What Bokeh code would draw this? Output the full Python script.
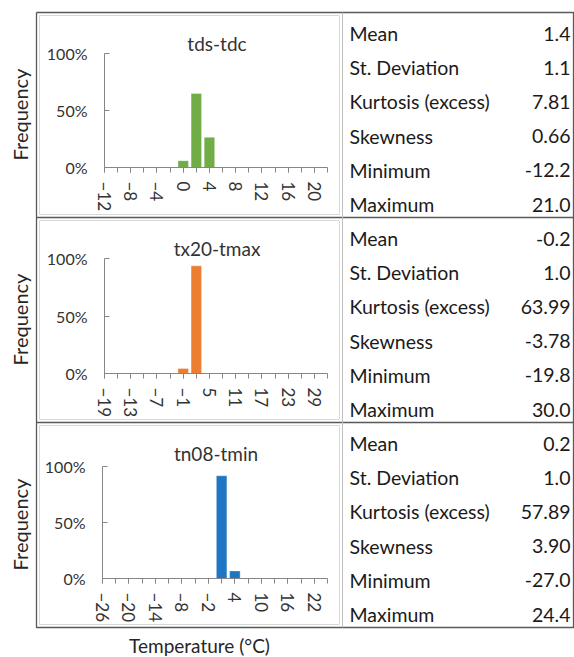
import math
from bokeh.plotting import figure
from bokeh.models import Range1d, LinearAxis, FixedTicker, PrintfTickFormatter
from bokeh.core.properties import value
from bokeh.embed import file_html
from bokeh.resources import INLINE

W, H = 574, 657
FONT = "Lato"

# ---------------- data ----------------
titles = ["tds-tdc", "tx20-tmax", "tn08-tmin"]
stat_names = ["Mean", "St. Deviation", "Kurtosis (excess)", "Skewness", "Minimum", "Maximum"]
tds_stats = ["1.4", "1.1", "7.81", "0.66", "-12.2", "21.0"]
tx20_stats = ["-0.2", "1.0", "63.99", "-3.78", "-19.8", "30.0"]
tn08_stats = ["0.2", "1.0", "57.89", "3.90", "-27.0", "24.4"]

# histogram bins (bin centres, degC) and frequencies (%)
tds_bins = [-12, -10, -8, -6, -4, -2, 0, 2, 4, 6, 8, 10, 12, 14, 16, 18, 20, 22]
tds_freq = [0, 0, 0, 0, 0, 0, 6, 65, 26.5, 0, 0, 0, 0, 0, 0, 0, 0, 0]
tx20_bins = [-19, -16, -13, -10, -7, -4, -1, 2, 5, 8, 11, 14, 17, 20, 23, 26, 29, 32]
tx20_freq = [0, 0, 0, 0, 0, 0.5, 4.4, 93.6, 0, 0, 0, 0, 0, 0, 0, 0, 0, 0]
tn08_bins = [-26, -23, -20, -17, -14, -11, -8, -5, -2, 1, 4, 7, 10, 13, 16, 19, 22, 25]
tn08_freq = [0, 0, 0, 0, 0, 0, 0, 0, 0, 91.7, 6.8, 0.5, 0, 0, 0, 0, 0, 0]

# tick labels on the temperature axes
tds_ticks = [-12, -8, -4, 0, 4, 8, 12, 16, 20]
tx20_ticks = [-19, -13, -7, -1, 5, 11, 17, 23, 29]
tn08_ticks = [-26, -20, -14, -8, -2, 4, 10, 16, 22]
freq_ticks = [0, 50, 100]

colors = ["#70AD47", "#ED7D31", "#1F77C4"]

# ---------------- layout (pixels) ----------------
box_l, box_r, box_t, box_b = 36, 573, 12, 627
panel_tops = [12, 217, 422]
panel_h = 205
split_x = 342
# plot areas: (x px left, x px right, y px of 0%, y px of 100%)
areas = [(104, 327, 167, 53), (104, 327, 373, 258), (102, 327, 578, 466)]

p = figure(width=W, height=H, x_range=Range1d(0, W), y_range=Range1d(H, 0),
           output_backend="svg", toolbar_location=None,
           x_axis_location=None, y_axis_location=None, min_border=0)
p.outline_line_color = None
p.grid.visible = False
p.background_fill_color = "white"
p.border_fill_color = "white"

# frame lines
dark = "#595959"
light = "#D9D9D9"
for i, top in enumerate(panel_tops):
    bot = top + panel_h
    p.line([39, 339, 339, 39, 39], [top + 3, top + 3, bot - 3, bot - 3, top + 3],
           line_color=light, line_width=1)
p.line([box_l, box_r, box_r, box_l, box_l], [box_t, box_t, box_b, box_b, box_t],
       line_color=dark, line_width=1.3)
for y in panel_tops[1:]:
    p.line([box_l, box_r], [y, y], line_color=dark, line_width=1.3)
p.line([split_x, split_x], [box_t, box_b], line_color="#BFBFBF", line_width=1)

datasets = [
    (tds_bins, tds_freq, tds_ticks, tds_stats),
    (tx20_bins, tx20_freq, tx20_ticks, tx20_stats),
    (tn08_bins, tn08_freq, tn08_ticks, tn08_stats),
]

for i, (bins, freq, ticks, stats) in enumerate(datasets):
    top = panel_tops[i]
    px0, px1, py0, py1 = areas[i]
    step = bins[1] - bins[0]
    a, b = bins[0], bins[-1]
    sx = (px1 - px0) / (b - a)
    xr = Range1d(a - px0 / sx, a + (W - px0) / sx)
    sy = (py0 - py1) / 100.0
    yr = Range1d(0 - (H - py0) / sy, 0 + py0 / sy)
    xn, yn = f"x{i}", f"y{i}"
    p.extra_x_ranges[xn] = xr
    p.extra_y_ranges[yn] = yr

    p.vbar(x=bins, top=freq, bottom=0, width=0.8 * step, fill_color=colors[i],
           line_color="white", line_width=0.6, line_alpha=0.6,
           x_range_name=xn, y_range_name=yn)

    xa = LinearAxis(x_range_name=xn, y_range_name=yn, fixed_location=0, bounds=(a, b))
    xa.ticker = FixedTicker(ticks=ticks, minor_ticks=bins)
    xa.major_label_orientation = "vertical"
    xa.axis_line_color = "#868686"
    xa.major_tick_line_color = "#868686"
    xa.minor_tick_line_color = "#868686"
    xa.major_tick_out = 5
    xa.major_tick_in = 0
    xa.minor_tick_out = 5
    xa.minor_tick_in = 0
    xa.major_label_standoff = 9
    xa.major_label_text_font = FONT
    xa.major_label_text_font_size = "17px"
    xa.major_label_text_color = "#333333"
    p.add_layout(xa, "below")

    ya = LinearAxis(x_range_name=xn, y_range_name=yn, fixed_location=a, bounds=(0, 100))
    ya.ticker = FixedTicker(ticks=freq_ticks, minor_ticks=[])
    ya.formatter = PrintfTickFormatter(format="%d%%")
    ya.axis_line_color = "#868686"
    ya.major_tick_line_color = "#868686"
    ya.major_tick_in = 5
    ya.major_tick_out = 0
    ya.minor_tick_line_color = None
    ya.major_label_standoff = 17
    ya.major_label_text_font = FONT
    ya.major_label_text_font_size = "16px"
    ya.major_label_text_color = "#333333"
    p.add_layout(ya, "left")

    # title
    p.text(x=[(px0 + px1) / 2 + 1], y=[top + 31], text=[titles[i]],
           text_font=value(FONT), text_font_size="19px", text_color="#333333",
           text_align="center", text_baseline="middle")
    # Frequency label
    p.text(x=[19], y=[top + 102], text=["Frequency"], angle=math.pi / 2,
           text_font=value(FONT), text_font_size="20px", text_color="#262626",
           text_align="center", text_baseline="middle")
    # stats table
    ys = [top + 21 + 34.2 * k for k in range(len(stat_names))]
    p.text(x=[349] * len(stat_names), y=ys, text=stat_names,
           text_font=value(FONT), text_font_size="19.5px", text_color="#1A1A1A",
           text_align="left", text_baseline="middle")
    p.text(x=[570] * len(stats), y=ys, text=stats,
           text_font=value(FONT), text_font_size="19.5px", text_color="#1A1A1A",
           text_align="right", text_baseline="middle")

p.text(x=[199], y=[645], text=["Temperature (°C)"],
       text_font=value(FONT), text_font_size="19px", text_color="#262626",
       text_align="center", text_baseline="middle")

open("out.html", "w").write(file_html(p, INLINE))
